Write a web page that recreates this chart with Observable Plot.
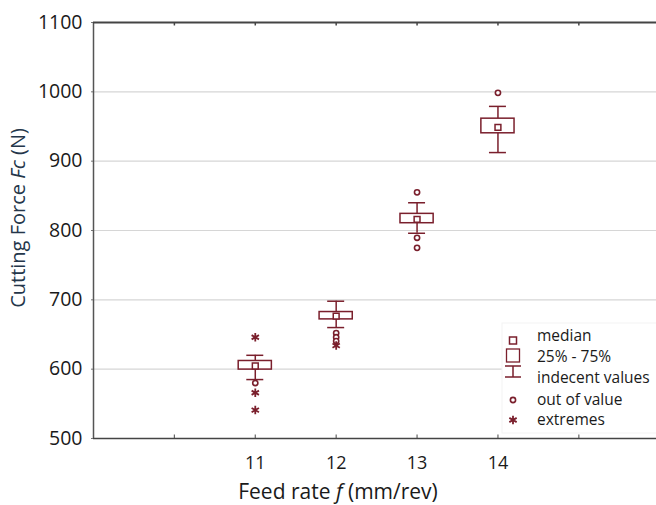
<!DOCTYPE html>
<html><head><meta charset="utf-8">
<script src="https://cdn.jsdelivr.net/npm/d3@7"></script>
<script src="https://cdn.jsdelivr.net/npm/@observablehq/plot@0.6"></script>
<style>
body{margin:0;background:#fff}
#chart{position:relative;width:656px;height:505px;overflow:hidden}
</style>
</head><body><div id="chart"></div>
<script>
// ---- data ----
const feeds       = [11, 12, 13, 14];
const medians     = [604.6, 676.6, 816.0, 948.8];
const q1          = [599.4, 671.8, 810.5, 940.2];
const q3          = [611.8, 682.4, 824.0, 961.3];
const whiskerLow  = [585.0, 660.0, 796.0, 912.4];
const whiskerHigh = [620.0, 698.0, 840.0, 979.0];
const outlierFeed  = [11, 12, 12, 12, 13, 13, 13, 14];
const outlierValue = [580, 652, 646, 640.5, 855, 789.5, 775, 998.5];
const extremeFeed  = [11, 11, 11, 12];
const extremeValue = [646, 566, 541, 634];
const xTicks      = [10, 11, 12, 13, 14, 15];
const xTickLabels = ["", "11", "12", "13", "14", ""];
const yTicks      = [500, 600, 700, 800, 900, 1000, 1100];
const legendLabels = ["median", "25% - 75%", "indecent values", "out of value", "extremes"];

const boxes = feeds.map((f, i) => ({f, med: medians[i], q1: q1[i], q3: q3[i], lo: whiskerLow[i], hi: whiskerHigh[i]}));
const outliers = outlierFeed.map((f, i) => ({f, v: outlierValue[i]}));
const extremes = extremeFeed.map((f, i) => ({f, v: extremeValue[i]}));

const col = "#7a1f2c";
const halfBox = 0.205, halfCap = 0.105;
const font = "Open Sans";

const plot = Plot.plot({
  width: 656, height: 505,
  marginLeft: 93, marginRight: 0, marginTop: 22, marginBottom: 67,
  style: {fontFamily: font, fontSize: "19.5px", color: "#1a1a1a", background: "#fff", overflow: "visible"},
  x: {domain: [9, 15.96]},
  y: {domain: [500, 1100]},
  marks: [
    Plot.gridY(yTicks.slice(1, -1), {stroke: "#d6d6d6", strokeOpacity: 1, strokeWidth: 1.2}),
    Plot.axisY(yTicks, {tickSize: 2, tickPadding: 9, label: null, stroke: "#777", tickFormat: d => String(d)}),
    Plot.axisX(xTicks, {tickSize: 0, tickPadding: 18, label: null, fontSize: 18, tickFormat: d => xTickLabels[xTicks.indexOf(d)]}),
    Plot.ruleX(xTicks, {x: d => d, y1: 500, y2: 505, stroke: "#666", strokeWidth: 1.2}),
    Plot.ruleX(xTicks, {x: d => d, y1: 1100, y2: 1095, stroke: "#444", strokeWidth: 1.5}),
    Plot.ruleX([9], {stroke: "#555", strokeWidth: 1.5}),
    Plot.ruleY([500], {stroke: "#444", strokeWidth: 1.5}),
    Plot.ruleY([1100], {stroke: "#444", strokeWidth: 2}),
    // whiskers
    Plot.ruleX(boxes, {x: "f", y1: "q3", y2: "hi", stroke: col, strokeWidth: 1.5}),
    Plot.ruleX(boxes, {x: "f", y1: "lo", y2: "q1", stroke: col, strokeWidth: 1.5}),
    Plot.ruleY(boxes, {y: "hi", x1: d => d.f - halfCap, x2: d => d.f + halfCap, stroke: col, strokeWidth: 1.5}),
    Plot.ruleY(boxes, {y: "lo", x1: d => d.f - halfCap, x2: d => d.f + halfCap, stroke: col, strokeWidth: 1.5}),
    // boxes
    Plot.rect(boxes, {x1: d => d.f - halfBox, x2: d => d.f + halfBox, y1: "q1", y2: "q3", fill: "#fff", stroke: col, strokeWidth: 1.5}),
    Plot.dot(boxes, {x: "f", y: "med", symbol: "square", r: 3.3, fill: "#fff", stroke: col, strokeWidth: 1.5}),
    // outliers and extremes
    Plot.dot(outliers, {x: "f", y: "v", r: 2.6, fill: "#fff", stroke: col, strokeWidth: 1.6}),
    Plot.dot(extremes, {x: "f", y: "v", symbol: "asterisk", r: 4, stroke: col, strokeWidth: 1.8})
  ]
});

const svg = d3.select(plot);

// axis titles with italic parts
const xt = svg.append("text").attr("x", 338).attr("y", 498.5).attr("text-anchor", "middle")
  .attr("font-family", font).attr("font-size", 21).attr("fill", "#1a1a1a");
xt.append("tspan").text("Feed rate ");
xt.append("tspan").attr("font-style", "italic").text("f");
xt.append("tspan").text(" (mm/rev)");

const yt = svg.append("text").attr("transform", "translate(25,218) rotate(-90)").attr("text-anchor", "middle")
  .attr("font-family", font).attr("font-size", 20).attr("fill", "#24364a");
yt.append("tspan").text("Cutting Force ");
yt.append("tspan").attr("font-style", "italic").text("Fc");
yt.append("tspan").text(" (N)");

// legend
const lg = svg.append("g").attr("text-anchor", "start");
lg.append("rect").attr("x", 502).attr("y", 323).attr("width", 160).attr("height", 110)
  .attr("fill", "#fff").attr("stroke", "#f3f3f3");
const rowY = [336, 357, 378, 400, 420];
const sx = 513;
lg.append("rect").attr("x", sx - 3.5).attr("y", rowY[0] + 1).attr("width", 7).attr("height", 7)
  .attr("fill", "#fff").attr("stroke", col).attr("stroke-width", 1.5);
lg.append("rect").attr("x", sx - 6.5).attr("y", rowY[1] - 8).attr("width", 13).attr("height", 13)
  .attr("fill", "#fff").attr("stroke", col).attr("stroke-width", 1.3);
lg.append("path").attr("d", `M${sx-8},${rowY[2]-12}H${sx+8}M${sx},${rowY[2]-12}V${rowY[2]-1}M${sx-8},${rowY[2]-1}H${sx+8}`)
  .attr("fill", "none").attr("stroke", col).attr("stroke-width", 1.5);
lg.append("circle").attr("cx", sx).attr("cy", rowY[3]).attr("r", 2.6)
  .attr("fill", "#fff").attr("stroke", col).attr("stroke-width", 1.6);
lg.append("path").attr("d", d3.symbol(d3.symbolAsterisk, Math.PI * 4 * 4)()).attr("transform", `translate(${sx},${rowY[4]})`)
  .attr("fill", "none").attr("stroke", col).attr("stroke-width", 1.8);
lg.selectAll("text.l").data(legendLabels).join("text").attr("class", "l")
  .attr("x", 537).attr("y", (d, i) => rowY[i]).attr("dy", "0.35em").attr("text-anchor", "start")
  .attr("font-family", font).attr("font-size", 15.5).attr("fill", "#1a1a1a").text(d => d);

document.getElementById("chart").appendChild(plot);
</script>
</body></html>
